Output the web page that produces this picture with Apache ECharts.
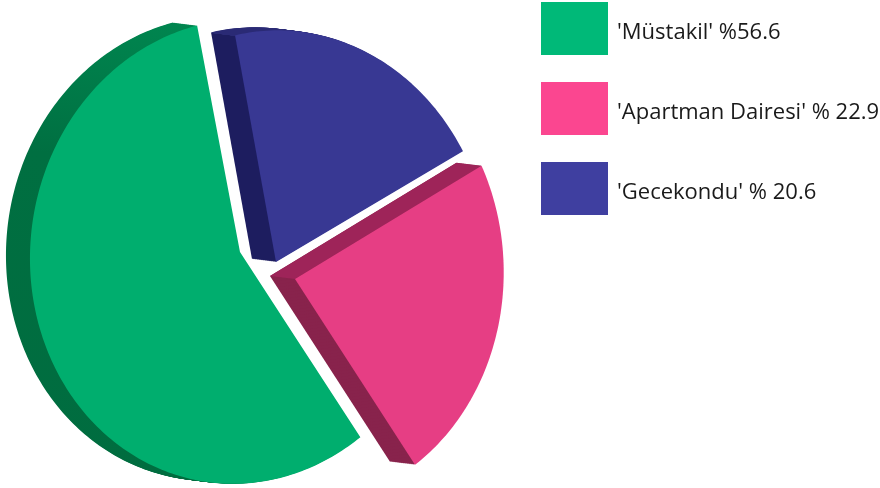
<!DOCTYPE html>
<html>
<head>
<meta charset="utf-8">
<style>html,body{margin:0;padding:0;background:#fff}#chart{width:880px;height:488px}</style>
<script src="https://cdn.jsdelivr.net/npm/echarts@6/dist/echarts.min.js"></script>
</head>
<body>
<div id="chart"></div>
<script>
const labels = ["'Müstakil' %56.6", "'Apartman Dairesi' % 22.9", "'Gecekondu' % 20.6"];
const shares = [56.6, 22.9, 20.6];

// Slice colours: face, legend swatch
const faceColors = ["#00AE6E", "#E63E84", "#383893"];
const swatchColors = ["#00B978", "#FB4690", "#3F3FA0"];

// Side walls run lighter towards the top of each slice
const sideColors = [
    new echarts.graphic.LinearGradient(0, 0, 0, 1, [
        { offset: 0, color: "#00854F" }, { offset: 0.28, color: "#006F41" }, { offset: 1, color: "#006C3F" }
    ]),
    "#88234C",
    new echarts.graphic.LinearGradient(0, 0, 0, 1, [
        { offset: 0, color: "#2A2A75" }, { offset: 0.025, color: "#2A2A75" },
        { offset: 0.026, color: "#1D1D5F" }, { offset: 1, color: "#1D1D5F" }
    ])
];
const upperWallColor = "#9E2459";

// Layout of each exploded slice: tip, tilted ellipse and extrusion offset
const layouts = [
    { ax: 240, ay: 252, cx: 239.5, cy: 251.5, rx: 209.5, ry: 232, kx: -4.5, ky: -12, dx: -24, dy: -3 },
    { ax: 295, ay: 279, cx: 298.7, cy: 270, rx: 205, ry: 235, kx: -2, ky: 0, dx: -25, dy: -3 },
    { ax: 276, ay: 262, cx: 285, cy: 258.4, rx: 205, ry: 228, kx: -13, ky: -6.7, dx: -24, dy: -3 }
];
const startAngle = 146;
const order = [0, 2, 1]; // clockwise drawing order round the pie
const total = shares.reduce((a, b) => a + b, 0);

// Angles for each slice, clockwise from the top
const slices = [];
let angle = startAngle;
order.forEach(i => {
    const sweep = shares[i] / total * 360;
    slices[i] = { from: angle, to: angle + sweep };
    angle += sweep;
});

function arcPoint (l, deg) {
    const r = deg * Math.PI / 180;
    return [
        l.cx + l.rx * Math.sin(r) + l.kx * Math.cos(r),
        l.cy - l.ry * Math.cos(r) + l.ky * Math.sin(r)
    ];
}

function slicePoints (i) {
    const l = layouts[i], s = slices[i];
    const pts = [[l.ax, l.ay]];
    for (let a = s.from; a < s.to; a += 1) pts.push(arcPoint(l, a));
    pts.push(arcPoint(l, s.to));
    return pts;
}

function renderSlice (i) {
    return function () {
        const l = layouts[i], pts = slicePoints(i);
        const children = [];
        // Side wall: the slice swept along the extrusion offset
        for (let k = 24; k >= 1; k--) {
            children.push({
                type: "polygon",
                shape: { points: pts.map(p => [p[0] + l.dx * k / 24, p[1] + l.dy * k / 24]) },
                style: { fill: sideColors[i] }
            });
        }
        // Pink slice: lighter wall on the upper cut edge
        if (i === 1) {
            const tip = pts[0], end = pts[1];
            children.push({
                type: "polygon",
                shape: { points: [tip, end, [end[0] + l.dx, end[1] + l.dy], [tip[0] + l.dx, tip[1] + l.dy]] },
                style: { fill: upperWallColor }
            });
        }
        children.push({ type: "polygon", shape: { points: pts }, style: { fill: faceColors[i] } });
        return { type: "group", children: children };
    };
}

const chart = echarts.init(document.getElementById("chart"), null, { renderer: "canvas" });
chart.setOption({
    animation: false,
    legend: {
        orient: "vertical",
        left: 541,
        top: 2,
        padding: 0,
        itemWidth: 67,
        itemHeight: 53,
        itemGap: 27,
        selectedMode: false,
        formatter: name => "{t|" + name + "}",
        textStyle: {
            rich: {
                t: { fontFamily: "Open Sans", fontSize: 22, color: "#1a1a1a", padding: [8, 0, 0, 4] }
            }
        },
        data: labels.map((name, i) => ({ name: name, icon: "rect", itemStyle: { color: swatchColors[i] } }))
    },
    series: labels.map((name, i) => ({
        type: "custom",
        name: name,
        coordinateSystem: "none",
        data: [shares[i]],
        renderItem: renderSlice(i),
        itemStyle: { color: swatchColors[i] }
    }))
});
</script>
</body>
</html>
